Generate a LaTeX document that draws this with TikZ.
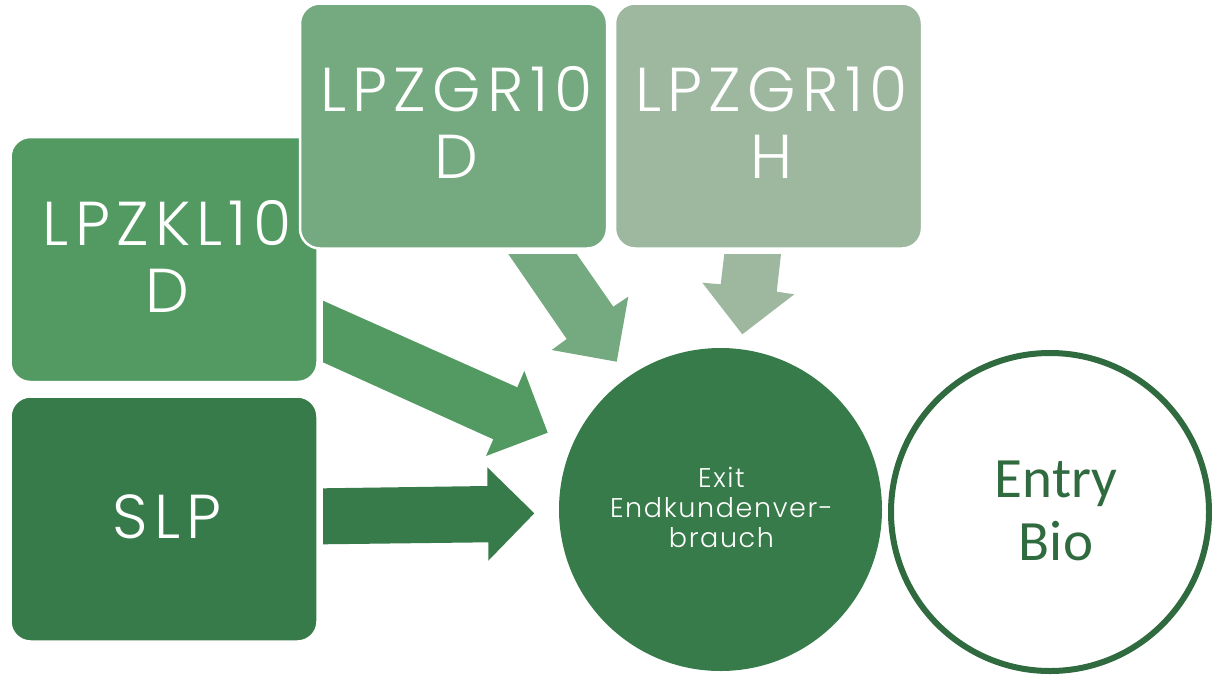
\documentclass[tikz,border=0pt]{standalone}
\usepackage{fontspec}
\newfontfamily\mfont{Poppins}[UprightFont=* Light, LetterSpace=10]
\newfontfamily\efont{Poppins}[UprightFont=* Light, LetterSpace=6]
\newfontfamily\cfont{Carlito}
\definecolor{cKL}{HTML}{529A62}
\definecolor{cSLP}{HTML}{377B4A}
\definecolor{cGRD}{HTML}{75A97F}
\definecolor{cGRH}{HTML}{9EB8A0}
\definecolor{cEntry}{HTML}{2F6B3F}
\begin{document}
\begin{tikzpicture}[x=1pt,y=-1pt,
  box/.style={rounded corners=20pt, draw=white, line width=2.5pt,
    minimum width=307pt, minimum height=245pt, inner sep=0pt,
    text=white, align=center, font=\mfont\fontsize{62}{67}\selectfont}]
\useasboundingbox (0,0) rectangle (1212,675);
\fill[white] (0,0) rectangle (1212,675);
% boxes
\node[box, fill=cKL] (kl) at (164,259.5) {};
\node[text=white, align=center, font=\mfont\fontsize{62}{67}\selectfont, xshift=3pt, yshift=3pt] (kltxt) at (kl.center) {LPZKL10\\D};
\node[box, fill=cSLP] (slp) at (164,519) {};
\node[text=white, font=\mfont\fontsize{62}{67}\selectfont, xshift=3pt, yshift=2pt] (slptxt) at (slp.center) {SLP};
\node[box, fill=cGRD] (grd) at (453.5,126) {};
\node[text=white, align=center, font=\mfont\fontsize{62}{67}\selectfont, xshift=3pt, yshift=4pt] (grdtxt) at (grd.center) {LPZGR10\\D};
\node[box, fill=cGRH] (grh) at (768.5,126) {};
\node[text=white, align=center, font=\mfont\fontsize{62}{67}\selectfont, xshift=3pt, yshift=4pt] (grhtxt) at (grh.center) {LPZGR10\\H};
% circles
\node[circle, fill=cSLP, minimum size=323pt, inner sep=0pt] (exit) at (720.5,509.5) {};
\node[text=white, align=center, font=\efont\fontsize{27}{30}\selectfont, xshift=1pt, yshift=2pt] (exittxt) at (exit.center) {Exit\\Endkundenver-\\brauch};
\node[circle, draw=cEntry, line width=6pt, fill=white, minimum size=318pt, inner sep=0pt] (entry) at (1050,512) {};
\node[text=cEntry, align=center, font=\cfont\fontsize{57}{63}\selectfont] (entrytxt) at (1056,511) {Entry\\Bio};
% block arrows
\fill[cKL] (323,300.7) -- (517.3,387.3) -- (524.3,371) -- (547.7,432.7) -- (486,456) -- (493.3,439.3) -- (323,362.3) -- cycle;
\fill[cSLP] (323,488.3) -- (487.3,486) -- (487.3,467.3) -- (534.3,513.3) -- (488.3,560.7) -- (488.3,542.3) -- (323,544.3) -- cycle;
\fill[cGRD] (508.3,254) -- (576.7,254) -- (613.3,306.7) -- (628.3,296.7) -- (616.7,361.7) -- (551.7,350) -- (566.7,339) -- cycle;
\fill[cGRH] (724.3,254) -- (781,254) -- (776.7,291.7) -- (794.3,294.3) -- (742.3,334.3) -- (702.3,282.7) -- (720.7,284.3) -- cycle;
\end{tikzpicture}
\end{document}
